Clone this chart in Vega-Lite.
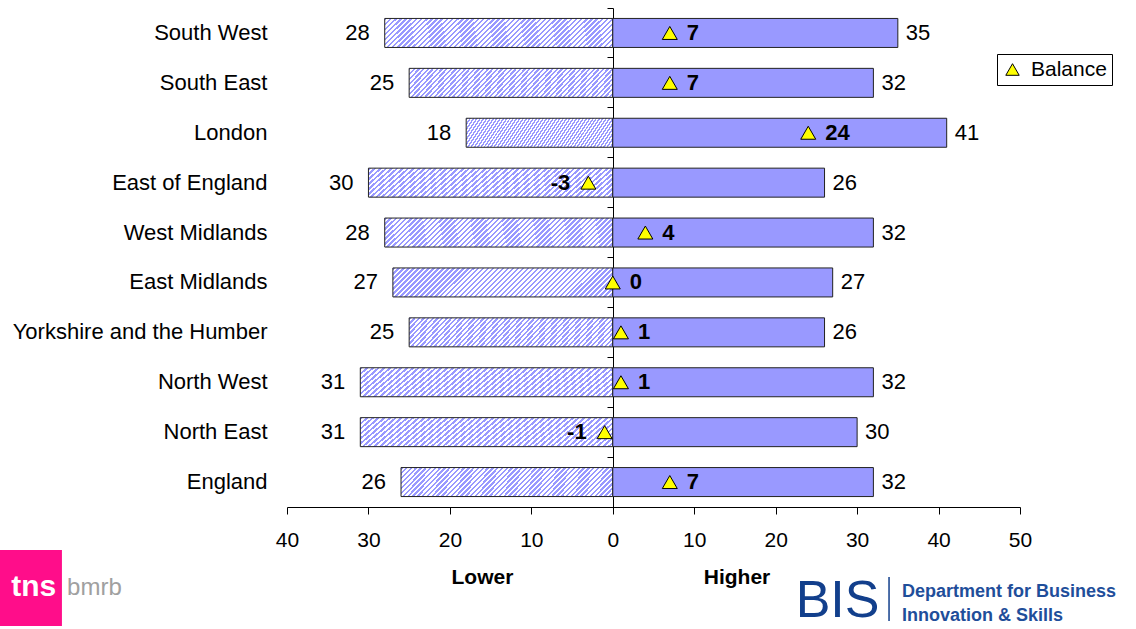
{
  "$schema": "https://vega.github.io/schema/vega-lite/v6.json",
  "width": 733,
  "height": 499,
  "autosize": "none",
  "padding": {"left": 287, "top": 8, "right": 116, "bottom": 122},
  "background": "white",
  "config": {
    "view": {"stroke": null},
    "font": "Liberation Sans",
    "text": {"font": "Liberation Sans", "fontSize": 22, "color": "black"}
  },
  "data": {
    "values": [
      {"region": "South West", "lower": 28, "higher": 35, "balance": 7},
      {"region": "South East", "lower": 25, "higher": 32, "balance": 7},
      {"region": "London", "lower": 18, "higher": 41, "balance": 24},
      {"region": "East of England", "lower": 30, "higher": 26, "balance": -3},
      {"region": "West Midlands", "lower": 28, "higher": 32, "balance": 4},
      {"region": "East Midlands", "lower": 27, "higher": 27, "balance": 0},
      {"region": "Yorkshire and the Humber", "lower": 25, "higher": 26, "balance": 1},
      {"region": "North West", "lower": 31, "higher": 32, "balance": 1},
      {"region": "North East", "lower": 31, "higher": 30, "balance": -1},
      {"region": "England", "lower": 26, "higher": 32, "balance": 7}
    ]
  },
  "transform": [{"calculate": "-datum.lower", "as": "lowerNeg"}],
  "encoding": {
    "y": {
      "field": "region",
      "type": "nominal",
      "sort": null,
      "scale": {"paddingInner": 0, "paddingOuter": 0},
      "axis": {
        "title": null,
        "orient": "left",
        "offset": -326,
        "domainColor": "black",
        "domainWidth": 1,
        "tickColor": "black",
        "tickSize": 6,
        "bandPosition": 0,
        "labelPadding": 340,
        "labelFont": "Liberation Sans",
        "labelFontSize": 22,
        "labelColor": "black",
        "labelLimit": 0,
        "grid": false
      }
    }
  },
  "layer": [
    {
      "mark": {
        "type": "bar",
        "height": 29,
        "stroke": "#222222",
        "strokeWidth": 1,
        "fill": {
          "gradient": "linear",
          "x1": 0, "y1": 0, "x2": 1.113, "y2": 0.147,
          "stops": [
            {"offset": 0, "color": "#9999ff"}, {"offset": 0.01, "color": "#9999ff"}, {"offset": 0.01, "color": "#ffffff"}, {"offset": 0.02, "color": "#ffffff"},
            {"offset": 0.02, "color": "#9999ff"}, {"offset": 0.03, "color": "#9999ff"}, {"offset": 0.03, "color": "#ffffff"}, {"offset": 0.04, "color": "#ffffff"},
            {"offset": 0.04, "color": "#9999ff"}, {"offset": 0.05, "color": "#9999ff"}, {"offset": 0.05, "color": "#ffffff"}, {"offset": 0.06, "color": "#ffffff"},
            {"offset": 0.06, "color": "#9999ff"}, {"offset": 0.07, "color": "#9999ff"}, {"offset": 0.07, "color": "#ffffff"}, {"offset": 0.08, "color": "#ffffff"},
            {"offset": 0.08, "color": "#9999ff"}, {"offset": 0.09, "color": "#9999ff"}, {"offset": 0.09, "color": "#ffffff"}, {"offset": 0.10, "color": "#ffffff"},
            {"offset": 0.10, "color": "#9999ff"}, {"offset": 0.11, "color": "#9999ff"}, {"offset": 0.11, "color": "#ffffff"}, {"offset": 0.12, "color": "#ffffff"},
            {"offset": 0.12, "color": "#9999ff"}, {"offset": 0.13, "color": "#9999ff"}, {"offset": 0.13, "color": "#ffffff"}, {"offset": 0.14, "color": "#ffffff"},
            {"offset": 0.14, "color": "#9999ff"}, {"offset": 0.15, "color": "#9999ff"}, {"offset": 0.15, "color": "#ffffff"}, {"offset": 0.16, "color": "#ffffff"},
            {"offset": 0.16, "color": "#9999ff"}, {"offset": 0.17, "color": "#9999ff"}, {"offset": 0.17, "color": "#ffffff"}, {"offset": 0.18, "color": "#ffffff"},
            {"offset": 0.18, "color": "#9999ff"}, {"offset": 0.19, "color": "#9999ff"}, {"offset": 0.19, "color": "#ffffff"}, {"offset": 0.20, "color": "#ffffff"},
            {"offset": 0.20, "color": "#9999ff"}, {"offset": 0.21, "color": "#9999ff"}, {"offset": 0.21, "color": "#ffffff"}, {"offset": 0.22, "color": "#ffffff"},
            {"offset": 0.22, "color": "#9999ff"}, {"offset": 0.23, "color": "#9999ff"}, {"offset": 0.23, "color": "#ffffff"}, {"offset": 0.24, "color": "#ffffff"},
            {"offset": 0.24, "color": "#9999ff"}, {"offset": 0.25, "color": "#9999ff"}, {"offset": 0.25, "color": "#ffffff"}, {"offset": 0.26, "color": "#ffffff"},
            {"offset": 0.26, "color": "#9999ff"}, {"offset": 0.27, "color": "#9999ff"}, {"offset": 0.27, "color": "#ffffff"}, {"offset": 0.28, "color": "#ffffff"},
            {"offset": 0.28, "color": "#9999ff"}, {"offset": 0.29, "color": "#9999ff"}, {"offset": 0.29, "color": "#ffffff"}, {"offset": 0.30, "color": "#ffffff"},
            {"offset": 0.30, "color": "#9999ff"}, {"offset": 0.31, "color": "#9999ff"}, {"offset": 0.31, "color": "#ffffff"}, {"offset": 0.32, "color": "#ffffff"},
            {"offset": 0.32, "color": "#9999ff"}, {"offset": 0.33, "color": "#9999ff"}, {"offset": 0.33, "color": "#ffffff"}, {"offset": 0.34, "color": "#ffffff"},
            {"offset": 0.34, "color": "#9999ff"}, {"offset": 0.35, "color": "#9999ff"}, {"offset": 0.35, "color": "#ffffff"}, {"offset": 0.36, "color": "#ffffff"},
            {"offset": 0.36, "color": "#9999ff"}, {"offset": 0.37, "color": "#9999ff"}, {"offset": 0.37, "color": "#ffffff"}, {"offset": 0.38, "color": "#ffffff"},
            {"offset": 0.38, "color": "#9999ff"}, {"offset": 0.39, "color": "#9999ff"}, {"offset": 0.39, "color": "#ffffff"}, {"offset": 0.40, "color": "#ffffff"},
            {"offset": 0.40, "color": "#9999ff"}, {"offset": 0.41, "color": "#9999ff"}, {"offset": 0.41, "color": "#ffffff"}, {"offset": 0.42, "color": "#ffffff"},
            {"offset": 0.42, "color": "#9999ff"}, {"offset": 0.43, "color": "#9999ff"}, {"offset": 0.43, "color": "#ffffff"}, {"offset": 0.44, "color": "#ffffff"},
            {"offset": 0.44, "color": "#9999ff"}, {"offset": 0.45, "color": "#9999ff"}, {"offset": 0.45, "color": "#ffffff"}, {"offset": 0.46, "color": "#ffffff"},
            {"offset": 0.46, "color": "#9999ff"}, {"offset": 0.47, "color": "#9999ff"}, {"offset": 0.47, "color": "#ffffff"}, {"offset": 0.48, "color": "#ffffff"},
            {"offset": 0.48, "color": "#9999ff"}, {"offset": 0.49, "color": "#9999ff"}, {"offset": 0.49, "color": "#ffffff"}, {"offset": 0.50, "color": "#ffffff"},
            {"offset": 0.50, "color": "#9999ff"}, {"offset": 0.51, "color": "#9999ff"}, {"offset": 0.51, "color": "#ffffff"}, {"offset": 0.52, "color": "#ffffff"},
            {"offset": 0.52, "color": "#9999ff"}, {"offset": 0.53, "color": "#9999ff"}, {"offset": 0.53, "color": "#ffffff"}, {"offset": 0.54, "color": "#ffffff"},
            {"offset": 0.54, "color": "#9999ff"}, {"offset": 0.55, "color": "#9999ff"}, {"offset": 0.55, "color": "#ffffff"}, {"offset": 0.56, "color": "#ffffff"},
            {"offset": 0.56, "color": "#9999ff"}, {"offset": 0.57, "color": "#9999ff"}, {"offset": 0.57, "color": "#ffffff"}, {"offset": 0.58, "color": "#ffffff"},
            {"offset": 0.58, "color": "#9999ff"}, {"offset": 0.59, "color": "#9999ff"}, {"offset": 0.59, "color": "#ffffff"}, {"offset": 0.60, "color": "#ffffff"},
            {"offset": 0.60, "color": "#9999ff"}, {"offset": 0.61, "color": "#9999ff"}, {"offset": 0.61, "color": "#ffffff"}, {"offset": 0.62, "color": "#ffffff"},
            {"offset": 0.62, "color": "#9999ff"}, {"offset": 0.63, "color": "#9999ff"}, {"offset": 0.63, "color": "#ffffff"}, {"offset": 0.64, "color": "#ffffff"},
            {"offset": 0.64, "color": "#9999ff"}, {"offset": 0.65, "color": "#9999ff"}, {"offset": 0.65, "color": "#ffffff"}, {"offset": 0.66, "color": "#ffffff"},
            {"offset": 0.66, "color": "#9999ff"}, {"offset": 0.67, "color": "#9999ff"}, {"offset": 0.67, "color": "#ffffff"}, {"offset": 0.68, "color": "#ffffff"},
            {"offset": 0.68, "color": "#9999ff"}, {"offset": 0.69, "color": "#9999ff"}, {"offset": 0.69, "color": "#ffffff"}, {"offset": 0.70, "color": "#ffffff"},
            {"offset": 0.70, "color": "#9999ff"}, {"offset": 0.71, "color": "#9999ff"}, {"offset": 0.71, "color": "#ffffff"}, {"offset": 0.72, "color": "#ffffff"},
            {"offset": 0.72, "color": "#9999ff"}, {"offset": 0.73, "color": "#9999ff"}, {"offset": 0.73, "color": "#ffffff"}, {"offset": 0.74, "color": "#ffffff"},
            {"offset": 0.74, "color": "#9999ff"}, {"offset": 0.75, "color": "#9999ff"}, {"offset": 0.75, "color": "#ffffff"}, {"offset": 0.76, "color": "#ffffff"},
            {"offset": 0.76, "color": "#9999ff"}, {"offset": 0.77, "color": "#9999ff"}, {"offset": 0.77, "color": "#ffffff"}, {"offset": 0.78, "color": "#ffffff"},
            {"offset": 0.78, "color": "#9999ff"}, {"offset": 0.79, "color": "#9999ff"}, {"offset": 0.79, "color": "#ffffff"}, {"offset": 0.80, "color": "#ffffff"},
            {"offset": 0.80, "color": "#9999ff"}, {"offset": 0.81, "color": "#9999ff"}, {"offset": 0.81, "color": "#ffffff"}, {"offset": 0.82, "color": "#ffffff"},
            {"offset": 0.82, "color": "#9999ff"}, {"offset": 0.83, "color": "#9999ff"}, {"offset": 0.83, "color": "#ffffff"}, {"offset": 0.84, "color": "#ffffff"},
            {"offset": 0.84, "color": "#9999ff"}, {"offset": 0.85, "color": "#9999ff"}, {"offset": 0.85, "color": "#ffffff"}, {"offset": 0.86, "color": "#ffffff"},
            {"offset": 0.86, "color": "#9999ff"}, {"offset": 0.87, "color": "#9999ff"}, {"offset": 0.87, "color": "#ffffff"}, {"offset": 0.88, "color": "#ffffff"},
            {"offset": 0.88, "color": "#9999ff"}, {"offset": 0.89, "color": "#9999ff"}, {"offset": 0.89, "color": "#ffffff"}, {"offset": 0.90, "color": "#ffffff"},
            {"offset": 0.90, "color": "#9999ff"}, {"offset": 0.91, "color": "#9999ff"}, {"offset": 0.91, "color": "#ffffff"}, {"offset": 0.92, "color": "#ffffff"},
            {"offset": 0.92, "color": "#9999ff"}, {"offset": 0.93, "color": "#9999ff"}, {"offset": 0.93, "color": "#ffffff"}, {"offset": 0.94, "color": "#ffffff"},
            {"offset": 0.94, "color": "#9999ff"}, {"offset": 0.95, "color": "#9999ff"}, {"offset": 0.95, "color": "#ffffff"}, {"offset": 0.96, "color": "#ffffff"},
            {"offset": 0.96, "color": "#9999ff"}, {"offset": 0.97, "color": "#9999ff"}, {"offset": 0.97, "color": "#ffffff"}, {"offset": 0.98, "color": "#ffffff"},
            {"offset": 0.98, "color": "#9999ff"}, {"offset": 0.99, "color": "#9999ff"}, {"offset": 0.99, "color": "#ffffff"}, {"offset": 1, "color": "#ffffff"}
          ]
        }
      },
      "encoding": {
        "x": {
          "field": "lowerNeg",
          "type": "quantitative",
          "scale": {"domain": [-40, 50], "nice": false, "zero": false},
          "axis": {
            "title": null,
            "values": [-40, -30, -20, -10, 0, 10, 20, 30, 40, 50],
            "labelExpr": "abs(datum.value)",
            "labelFlush": false,
            "labelOverlap": false,
            "labelFont": "Liberation Sans",
            "labelFontSize": 21,
            "labelColor": "black",
            "labelPadding": 15,
            "tickSize": 7,
            "tickColor": "black",
            "domainColor": "black",
            "grid": false
          }
        },
        "x2": {"datum": 0}
      }
    },
    {
      "mark": {"type": "bar", "height": 29, "fill": "#9999ff", "stroke": "#222222", "strokeWidth": 1},
      "encoding": {
        "x": {"field": "higher", "type": "quantitative"},
        "x2": {"datum": 0}
      }
    },
    {
      "mark": {"type": "text", "align": "right", "baseline": "middle", "dx": -15},
      "encoding": {
        "x": {"field": "lowerNeg", "type": "quantitative"},
        "text": {"field": "lower", "type": "nominal"}
      }
    },
    {
      "mark": {"type": "text", "align": "left", "baseline": "middle", "dx": 8},
      "encoding": {
        "x": {"field": "higher", "type": "quantitative"},
        "text": {"field": "higher", "type": "nominal"}
      }
    },
    {
      "mark": {"type": "point", "shape": "triangle-up", "filled": true, "size": 225, "stroke": "black", "strokeWidth": 1, "opacity": 1},
      "encoding": {
        "x": {"field": "balance", "type": "quantitative"},
        "fill": {
          "datum": "Balance",
          "type": "nominal",
          "scale": {"range": ["#ffff00"]},
          "legend": {
            "title": null,
            "orient": "none",
            "legendX": 710,
            "legendY": 46,
            "strokeColor": "black",
            "fillColor": "white",
            "padding": 5,
            "labelFont": "Liberation Sans",
            "labelFontSize": 21,
            "labelColor": "black",
            "labelOffset": 8,
            "symbolType": "triangle-up",
            "symbolSize": 180,
            "symbolStrokeColor": "black",
            "symbolStrokeWidth": 1
          }
        }
      }
    },
    {
      "transform": [{"filter": "datum.balance >= 0"}],
      "mark": {"type": "text", "align": "left", "baseline": "middle", "dx": 17, "fontWeight": "bold"},
      "encoding": {
        "x": {"field": "balance", "type": "quantitative"},
        "text": {"field": "balance", "type": "nominal"}
      }
    },
    {
      "transform": [{"filter": "datum.balance < 0"}],
      "mark": {"type": "text", "align": "right", "baseline": "middle", "dx": -18, "fontWeight": "bold"},
      "encoding": {
        "x": {"field": "balance", "type": "quantitative"},
        "text": {"field": "balance", "type": "nominal"}
      }
    },
    {
      "data": {"values": [{}]},
      "mark": {"type": "text", "align": "center", "baseline": "middle", "dy": 96, "fontWeight": "bold", "fontSize": 21},
      "encoding": {
        "x": {"datum": -16},
        "y": {"datum": "England", "type": "nominal"},
        "text": {"value": "Lower"}
      }
    },
    {
      "data": {"values": [{}]},
      "mark": {"type": "text", "align": "center", "baseline": "middle", "dy": 96, "fontWeight": "bold", "fontSize": 21},
      "encoding": {
        "x": {"datum": 15.25},
        "y": {"datum": "England", "type": "nominal"},
        "text": {"value": "Higher"}
      }
    },
    {
      "data": {"values": [{}]},
      "mark": {"type": "point", "shape": "square", "filled": true, "size": 5776, "fill": "#ff0d8a", "opacity": 1, "yOffset": 106},
      "encoding": {
        "x": {"datum": -72.3},
        "y": {"datum": "England", "type": "nominal"}
      }
    },
    {
      "data": {"values": [{}]},
      "mark": {"type": "text", "align": "center", "baseline": "alphabetic", "dy": 114, "fontWeight": "bold", "fontSize": 30, "color": "white"},
      "encoding": {
        "x": {"datum": -71.1},
        "y": {"datum": "England", "type": "nominal"},
        "text": {"value": "tns"}
      }
    },
    {
      "data": {"values": [{}]},
      "mark": {"type": "text", "align": "left", "baseline": "alphabetic", "dy": 113, "fontSize": 24, "color": "#a0a0a0"},
      "encoding": {
        "x": {"datum": -67.0},
        "y": {"datum": "England", "type": "nominal"},
        "text": {"value": "bmrb"}
      }
    },
    {
      "data": {"values": [{}]},
      "mark": {"type": "text", "align": "center", "baseline": "bottom", "dy": 146, "fontSize": 52, "color": "#123f8c"},
      "encoding": {
        "x": {"datum": 27.6},
        "y": {"datum": "England", "type": "nominal"},
        "text": {"value": "BIS"}
      }
    },
    {
      "data": {"values": [{}]},
      "mark": {"type": "rule", "color": "#123f8c", "strokeWidth": 1.5, "yOffset": 95, "y2Offset": 139},
      "encoding": {
        "x": {"datum": 33.92},
        "y": {"datum": "England", "type": "nominal"},
        "y2": {"datum": "England"}
      }
    },
    {
      "data": {"values": [{}]},
      "mark": {"type": "text", "align": "left", "baseline": "middle", "dy": 109.5, "fontSize": 18, "fontWeight": "bold", "color": "#1f4e9a"},
      "encoding": {
        "x": {"datum": 35.51},
        "y": {"datum": "England", "type": "nominal"},
        "text": {"value": "Department for Business"}
      }
    },
    {
      "data": {"values": [{}]},
      "mark": {"type": "text", "align": "left", "baseline": "middle", "dy": 133.5, "fontSize": 18, "fontWeight": "bold", "color": "#1f4e9a"},
      "encoding": {
        "x": {"datum": 35.51},
        "y": {"datum": "England", "type": "nominal"},
        "text": {"value": "Innovation & Skills"}
      }
    }
  ]
}
